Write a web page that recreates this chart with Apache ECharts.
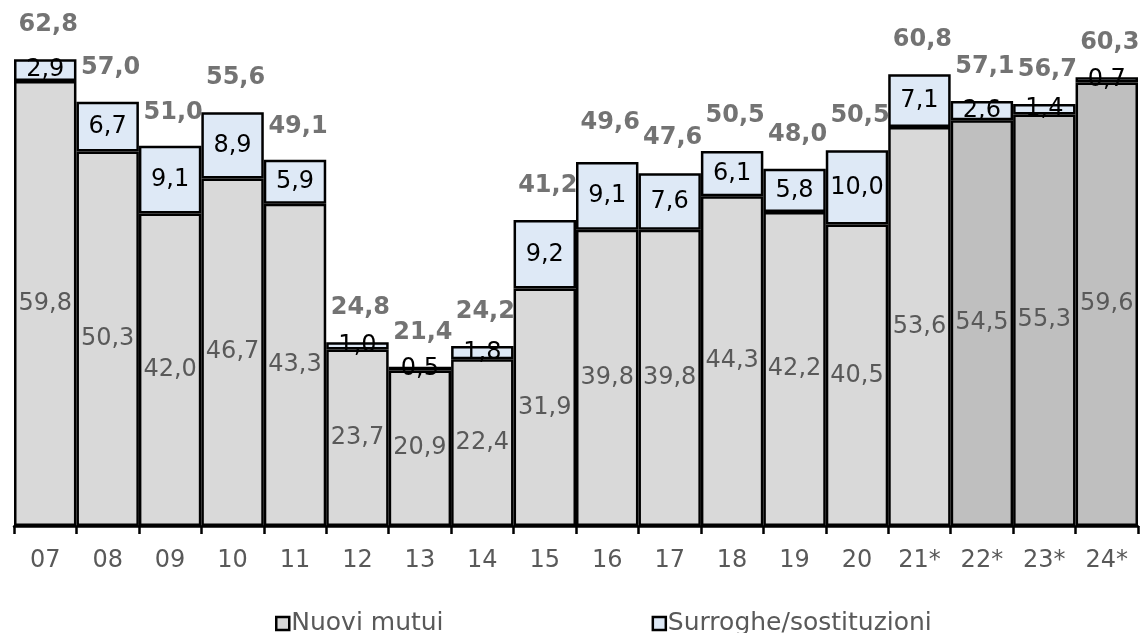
<!DOCTYPE html>
<html>
<head>
<meta charset="utf-8">
<script src="https://cdn.jsdelivr.net/npm/echarts@6/dist/echarts.min.js"></script>
<style>
  html, body { margin: 0; padding: 0; background: #fff; }
  #chart { width: 1143px; height: 633px; }
</style>
</head>
<body>
<div id="chart"></div>
<script>
const years = ["07", "08", "09", "10", "11", "12", "13", "14", "15", "16", "17", "18", "19", "20", "21*", "22*", "23*", "24*"];
const nuoviMutui = [59.8, 50.3, 42.0, 46.7, 43.3, 23.7, 20.9, 22.4, 31.9, 39.8, 39.8, 44.3, 42.2, 40.5, 53.6, 54.5, 55.3, 59.6];
const surroghe = [2.9, 6.7, 9.1, 8.9, 5.9, 1.0, 0.5, 1.8, 9.2, 9.1, 7.6, 6.1, 5.8, 10.0, 7.1, 2.6, 1.4, 0.7];
const totali = [62.8, 57.0, 51.0, 55.6, 49.1, 24.8, 21.4, 24.2, 41.2, 49.6, 47.6, 50.5, 48.0, 50.5, 60.8, 57.1, 56.7, 60.3];
// years drawn in the darker grey
const stimati = ["22*", "23*", "24*"];

const fmt = (v) => v.toFixed(1).replace(".", ",");
const font = "DejaVu Sans";

document.addEventListener("DOMContentLoaded", () => {
  var chartDom = document.getElementById("chart");
  var myChart = echarts.init(chartDom);
  var option;

  option = {
    animation: false,
    textStyle: { fontFamily: font },
    grid: { left: 14, right: 5, top: 5, bottom: 107 },
    legend: {
      data: ["Nuovi mutui", "Surroghe/sostituzioni"],
      left: 270,
      top: 606,
      itemWidth: 13,
      itemHeight: 13,
      itemGap: 208,
      icon: "rect",
      itemStyle: { borderColor: "#000", borderWidth: 2.5 },
      textStyle: { fontSize: 25, color: "#595959", fontFamily: font, padding: [0, 0, 0, -3] },
    },
    xAxis: {
      type: "category",
      data: years,
      axisLine: { lineStyle: { color: "#000", width: 2.5 } },
      axisTick: { show: true, length: 8, interval: 0, lineStyle: { color: "#000", width: 2.5 } },
      axisLabel: { fontSize: 24, color: "#595959", margin: 23, interval: 0, fontFamily: font },
    },
    yAxis: {
      type: "value",
      min: 0,
      max: 70,
      show: false,
      splitLine: { show: false },
    },
    series: [
      {
        name: "Nuovi mutui",
        type: "bar",
        stack: "tot",
        barCategoryGap: "0%",
        itemStyle: { color: "#d9d9d9", borderColor: "#000", borderWidth: 2.5 },
        label: {
          show: true,
          position: "inside",
          fontSize: 24,
          color: "#595959",
          fontFamily: font,
          formatter: (p) => fmt(p.value),
        },
        data: nuoviMutui.map((v, i) => ({
          value: v,
          itemStyle: stimati.includes(years[i]) ? { color: "#bfbfbf" } : undefined,
        })),
      },
      {
        name: "Surroghe/sostituzioni",
        type: "bar",
        stack: "tot",
        barCategoryGap: "0%",
        itemStyle: { color: "#dee9f6", borderColor: "#000", borderWidth: 2.5 },
        label: {
          show: true,
          position: "inside",
          fontSize: 24,
          color: "#000",
          fontFamily: font,
          formatter: (p) => fmt(p.value),
        },
        data: surroghe,
      },
      {
        name: "Totale",
        type: "scatter",
        symbolSize: 0,
        silent: true,
        z: 10,
        label: {
          show: true,
          position: "top",
          distance: 22,
          offset: [3, 0],
          fontSize: 24,
          fontWeight: "bold",
          color: "#505050",
          fontFamily: font,
          formatter: (p) => fmt(p.value),
        },
        data: totali,
      },
    ],
  };

  option && myChart.setOption(option);
});
</script>
</body>
</html>
